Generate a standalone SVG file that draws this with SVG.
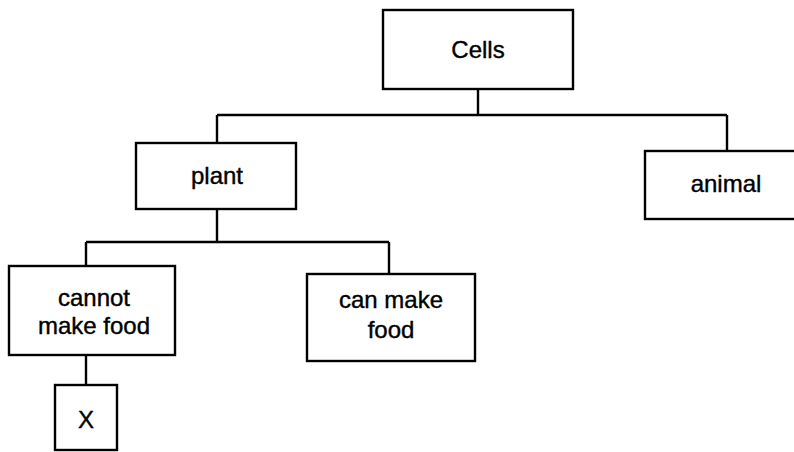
<svg xmlns="http://www.w3.org/2000/svg" width="794" height="452" viewBox="0 0 794 452">
<style>
.box{fill:#fff;stroke:#000;stroke-width:2.4}
.lbl{font-family:"Liberation Sans",Arial,sans-serif;font-size:24px;fill:#000;stroke:#000;stroke-width:0.4;text-anchor:middle}
.con{fill:none;stroke:#000;stroke-width:2.4}
</style>
<rect width="794" height="452" fill="#fff"/>
<g id="connectors">
<path class="con" d="M478,89 V115 M217,115 H727 M217,115 V143 M727,115 V151"/>
<path class="con" d="M217,209 V242 M86,242 H389 M86,242 V266 M389,242 V274"/>
<path class="con" d="M86,355 V385"/>
</g>
<g id="cells"><rect class="box" x="383" y="10" width="190" height="79"/><text class="lbl" x="478" y="58">Cells</text></g>
<g id="plant"><rect class="box" x="136" y="143" width="160" height="66"/><text class="lbl" x="217" y="184">plant</text></g>
<g id="animal"><rect class="box" x="645" y="151" width="152" height="68"/><text class="lbl" x="726" y="192">animal</text></g>
<g id="cannot"><rect class="box" x="9" y="266" width="166" height="89"/><text class="lbl" x="94" y="306">cannot</text><text class="lbl" x="94" y="334">make food</text></g>
<g id="can"><rect class="box" x="307" y="274" width="168" height="87"/><text class="lbl" x="391" y="308">can make</text><text class="lbl" x="391" y="338">food</text></g>
<g id="x"><rect class="box" x="55" y="385" width="62" height="65"/><text class="lbl" x="86" y="428">X</text></g>
</svg>
